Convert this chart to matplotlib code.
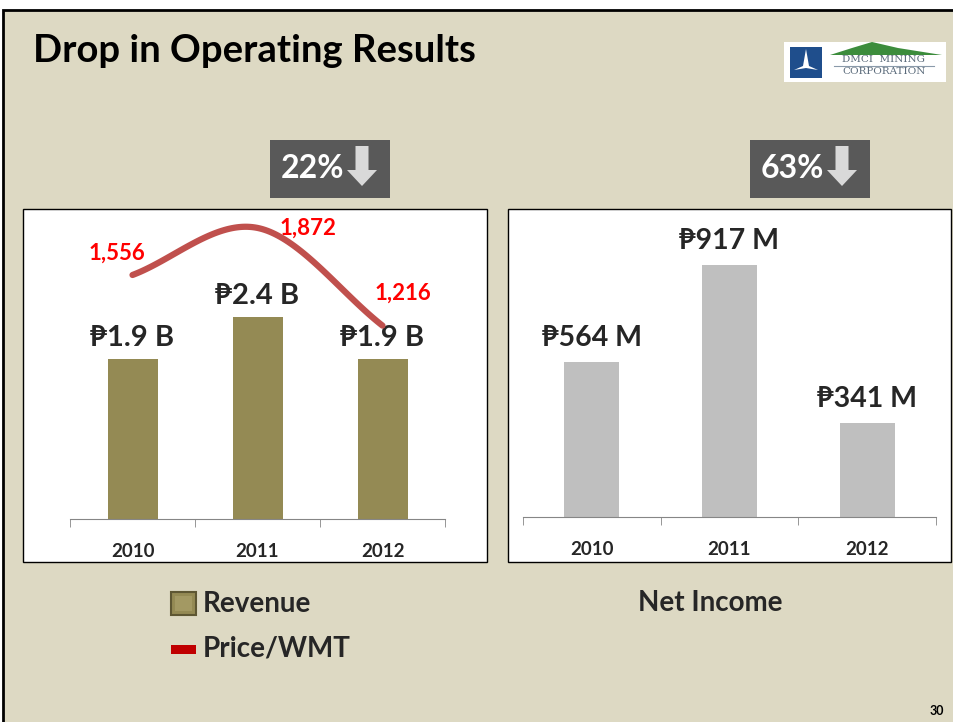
import numpy as np
import matplotlib.pyplot as plt
from matplotlib.patches import Rectangle, Polygon

# データ
years = ['2010', '2011', '2012']
revenue = [1.9, 2.4, 1.9]            # 十億ペソ
revenue_labels = ['₱1.9 B', '₱2.4 B', '₱1.9 B']
price_wmt = [1556, 1872, 1216]
price_labels = ['1,556', '1,872', '1,216']
net_income = [564, 917, 341]         # 百万ペソ
net_labels = ['₱564 M', '₱917 M', '₱341 M']
drops = ['22%', '63%']

W, H = 954, 722
BG = '#DDD9C3'
OLIVE = '#948A54'
GRAY_BAR = '#BFBFBF'
LINE_RED = '#C0504D'
TXT = '#262626'
FONT = ['Lato', 'DejaVu Sans']

plt.rcParams['font.family'] = FONT

fig = plt.figure(figsize=(W / 100, H / 100), dpi=100)
fig.patch.set_facecolor('white')


def fx(x):
    return x / W


def fy(y):
    return 1 - y / H


def rect(x0, y0, x1, y1, **kw):
    r = Rectangle((fx(x0), fy(y1)), fx(x1) - fx(x0), fy(y0) - fy(y1),
                  transform=fig.transFigure, **kw)
    fig.add_artist(r)
    return r


def ftext(x, y, s, **kw):
    fig.text(fx(x), fy(y), s, **kw)


# スライド背景と枠
rect(3, 10, W + 5, H + 5, facecolor=BG, edgecolor='black', lw=2, zorder=0)

# タイトル
ftext(33, 51, 'Drop in Operating Results', fontsize=27.5, fontweight='bold',
      color='black', va='center', ha='left')

# ロゴ（簡略版）
rect(784, 42, 946, 82, facecolor='white', edgecolor='none', zorder=1)
rect(790, 47, 822, 78, facecolor='#1F4E8C', edgecolor='none', zorder=2)
fig.add_artist(Polygon([(fx(806), fy(49)), (fx(809), fy(66)), (fx(818), fy(70)),
                        (fx(806), fy(68)), (fx(794), fy(70)), (fx(803), fy(66))],
                       closed=True, transform=fig.transFigure,
                       facecolor='white', edgecolor='none', zorder=3))
fig.add_artist(Polygon([(fx(830), fy(55)), (fx(852), fy(48)), (fx(872), fy(42)),
                        (fx(898), fy(48)), (fx(942), fy(55))],
                       closed=True, transform=fig.transFigure,
                       facecolor='#3C8C3C', edgecolor='none', zorder=2))
ftext(884, 60, 'DMCI  MINING', fontsize=7.5, color='#5A6A7A', ha='center',
      va='center', family='DejaVu Serif', zorder=3)
ftext(884, 72, 'CORPORATION', fontsize=7.5, color='#5A6A7A', ha='center',
      va='center', family='DejaVu Serif', zorder=3)
fig.add_artist(plt.Line2D([fx(834), fx(934)], [fy(66), fy(66)],
                          transform=fig.transFigure, color='#8A9AAA', lw=0.8,
                          zorder=3))

# 減少率ボックス
for (bx0, bx1), label in zip([(270, 390), (750, 870)], drops):
    rect(bx0, 140, bx1, 198, facecolor='#595959', edgecolor='none', zorder=1)
    ftext(bx0 + 11, 169, label, fontsize=23, fontweight='bold', color='white',
          ha='left', va='center', zorder=2)
    cx = bx0 + 92
    arrow = [(cx - 6.5, 146), (cx + 6.5, 146), (cx + 6.5, 170), (cx + 15, 170),
             (cx, 186), (cx - 15, 170), (cx - 6.5, 170)]
    fig.add_artist(Polygon([(fx(a), fy(b)) for a, b in arrow], closed=True,
                           transform=fig.transFigure, facecolor='#D9D9D9',
                           edgecolor='none', zorder=2))

# パネル
rect(23, 209, 487, 562, facecolor='white', edgecolor='black', lw=1, zorder=1)
rect(508, 209, 951, 562, facecolor='white', edgecolor='black', lw=1, zorder=1)


def setup_axes(ax):
    ax.set_facecolor('none')
    for s in ['top', 'right', 'left']:
        ax.spines[s].set_visible(False)
    ax.spines['bottom'].set_color('#868686')
    ax.set_xlim(-0.5, 2.5)
    ax.set_xticks([0, 1, 2])
    ax.set_xticklabels(years, fontsize=13.5, fontweight='bold', color=TXT)
    ax.tick_params(axis='x', which='major', length=0, pad=17)
    ax.set_xticks([-0.5, 0.5, 1.5, 2.5], minor=True)
    ax.tick_params(axis='x', which='minor', length=6, color='#868686',
                   direction='out')
    ax.set_yticks([])


# 左：売上高と価格
ax = fig.add_axes([fx(70), fy(519), fx(445) - fx(70), fy(209) - fy(519)])
setup_axes(ax)
ax.set_zorder(3)
x = np.arange(len(years))
ax.bar(x, revenue, width=0.4, color=OLIVE, zorder=2)
ax.set_ylim(0, 3.68)
for xi, v, lab in zip(x, revenue, revenue_labels):
    ax.annotate(lab, (xi, v), xytext=(0, 21), textcoords='offset pixels',
                ha='center', va='center', fontsize=21, fontweight='bold',
                color=TXT, zorder=5)

ax2 = ax.twinx()
ax2.set_ylim(-82, 1999)
ax2.axis('off')

# Excel風の平滑線（Catmull-Rom）
p = np.array(price_wmt, dtype=float)
m = np.array([p[1] - p[0], (p[2] - p[0]) / 2, p[2] - p[1]])
xs, ys = [], []
for i in range(len(p) - 1):
    t = np.linspace(0, 1, 50)
    h00 = 2 * t**3 - 3 * t**2 + 1
    h10 = t**3 - 2 * t**2 + t
    h01 = -2 * t**3 + 3 * t**2
    h11 = t**3 - t**2
    xs.append(x[i] + t)
    ys.append(h00 * p[i] + h10 * m[i] + h01 * p[i + 1] + h11 * m[i + 1])
ax2.plot(np.concatenate(xs), np.concatenate(ys), color=LINE_RED, lw=4.5,
         solid_capstyle='round', zorder=4)
for xi, v, lab, off in zip(x, price_wmt, price_labels,
                           [(-16, 22), (50, 0), (20, 32)]):
    ax2.annotate(lab, (xi, v), xytext=off, textcoords='offset pixels',
                 ha='center', va='center', fontsize=16, fontweight='bold',
                 color='#FF0000')

# 右：純利益
ax3 = fig.add_axes([fx(523), fy(517), fx(936) - fx(523), fy(209) - fy(517)])
setup_axes(ax3)
ax3.set_zorder(3)
ax3.bar(x, net_income, width=0.4, color=GRAY_BAR, zorder=2)
ax3.set_ylim(0, 1121)
for xi, v, lab in zip(x, net_income, net_labels):
    ax3.annotate(lab, (xi, v), xytext=(0, 24), textcoords='offset pixels',
                 ha='center', va='center', fontsize=20.5, fontweight='bold',
                 color=TXT)

# 凡例
rect(171, 592, 196, 615, facecolor=OLIVE, edgecolor='#5E5733', lw=1.5, zorder=2)
rect(175, 596, 192, 611, facecolor='#A39963', edgecolor='none', zorder=3)
ftext(203, 604, 'Revenue', fontsize=20, fontweight='bold', color=TXT,
      ha='left', va='center')
rect(171, 645, 196, 654, facecolor='#C00000', edgecolor='none', zorder=2)
ftext(203, 649, 'Price/WMT', fontsize=20, fontweight='bold', color=TXT,
      ha='left', va='center')
ftext(710, 603, 'Net Income', fontsize=20, fontweight='bold', color=TXT,
      ha='center', va='center')

# ページ番号
ftext(944, 711, '30', fontsize=9, fontweight='bold', color='black',
      ha='right', va='center')

fig.savefig('out.png', dpi=100, facecolor=fig.get_facecolor())
